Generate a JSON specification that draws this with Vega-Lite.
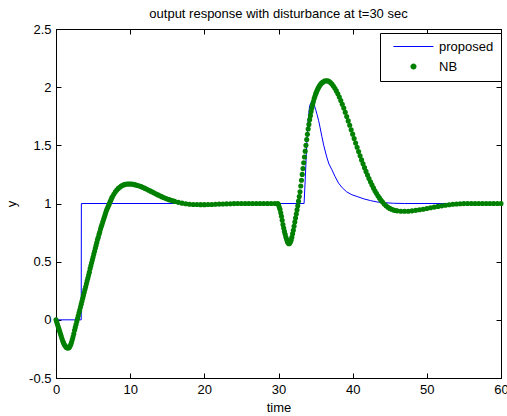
{
"$schema": "https://vega.github.io/schema/vega-lite/v6.json",
"width": 445, "height": 349,
"autosize": {"type": "none"},
"padding": {"left": 56, "top": 29, "right": 6, "bottom": 38},
"background": "white",
"title": {"text": "output response with disturbance at t=30 sec", "fontSize": 13, "fontWeight": "normal", "font": "Liberation Sans", "color": "black", "baseline": "alphabetic", "offset": -7.5, "anchor": "middle"},
"datasets": {
"proposed": [{"t":0,"y":0},{"t":3.4,"y":0},{"t":3.42,"y":1},{"t":33.45,"y":1},{"t":33.6,"y":1.2},{"t":33.8,"y":1.5},{"t":34.0,"y":1.72},{"t":34.2,"y":1.84},{"t":34.4,"y":1.87},{"t":34.6,"y":1.87},{"t":34.8,"y":1.85},{"t":35.0,"y":1.81},{"t":35.2,"y":1.765},{"t":35.4,"y":1.715},{"t":35.6,"y":1.655},{"t":35.85,"y":1.575},{"t":36.1,"y":1.5},{"t":36.5,"y":1.4},{"t":36.8,"y":1.34},{"t":37.2,"y":1.29},{"t":37.6,"y":1.235},{"t":38.1,"y":1.175},{"t":38.6,"y":1.135},{"t":39.2,"y":1.1},{"t":39.9,"y":1.075},{"t":40.6,"y":1.06},{"t":41.5,"y":1.04},{"t":42.4,"y":1.025},{"t":43.3,"y":1.013},{"t":44.2,"y":1.007},{"t":45.5,"y":1.002},{"t":47,"y":1},{"t":60,"y":1}],
"nb": [{"t":0,"y":0},{"t":0.1,"y":-0.02},{"t":0.2,"y":-0.04},{"t":0.3,"y":-0.06},{"t":0.4,"y":-0.08},{"t":0.5,"y":-0.1},{"t":0.6,"y":-0.12},{"t":0.7,"y":-0.14},{"t":0.8,"y":-0.16},{"t":0.9,"y":-0.18},{"t":1,"y":-0.195},{"t":1.1,"y":-0.21},{"t":1.2,"y":-0.22},{"t":1.3,"y":-0.23},{"t":1.4,"y":-0.237},{"t":1.5,"y":-0.24},{"t":1.6,"y":-0.242},{"t":1.7,"y":-0.24},{"t":1.8,"y":-0.235},{"t":1.9,"y":-0.225},{"t":2,"y":-0.21},{"t":2.1,"y":-0.19},{"t":2.2,"y":-0.17},{"t":2.3,"y":-0.145},{"t":2.4,"y":-0.12},{"t":2.5,"y":-0.09},{"t":2.6,"y":-0.065},{"t":2.7,"y":-0.04},{"t":2.8,"y":-0.015},{"t":2.9,"y":0.01},{"t":3,"y":0.035},{"t":3.1,"y":0.06},{"t":3.2,"y":0.085},{"t":3.3,"y":0.11},{"t":3.4,"y":0.135},{"t":3.5,"y":0.16},{"t":3.6,"y":0.185},{"t":3.7,"y":0.21},{"t":3.8,"y":0.235},{"t":3.9,"y":0.26},{"t":4,"y":0.285},{"t":4.1,"y":0.31},{"t":4.2,"y":0.335},{"t":4.3,"y":0.36},{"t":4.4,"y":0.385},{"t":4.5,"y":0.41},{"t":4.6,"y":0.44},{"t":4.7,"y":0.465},{"t":4.8,"y":0.49},{"t":4.9,"y":0.515},{"t":5,"y":0.54},{"t":5.1,"y":0.565},{"t":5.2,"y":0.59},{"t":5.3,"y":0.615},{"t":5.4,"y":0.64},{"t":5.5,"y":0.665},{"t":5.6,"y":0.69},{"t":5.7,"y":0.71},{"t":5.8,"y":0.735},{"t":5.9,"y":0.755},{"t":6,"y":0.78},{"t":6.1,"y":0.8},{"t":6.2,"y":0.82},{"t":6.3,"y":0.84},{"t":6.4,"y":0.86},{"t":6.5,"y":0.88},{"t":6.6,"y":0.9},{"t":6.7,"y":0.92},{"t":6.8,"y":0.94},{"t":6.9,"y":0.955},{"t":7,"y":0.97},{"t":7.1,"y":0.985},{"t":7.2,"y":1},{"t":7.3,"y":1.015},{"t":7.4,"y":1.03},{"t":7.5,"y":1.045},{"t":7.6,"y":1.058},{"t":7.8,"y":1.08},{"t":8,"y":1.1},{"t":8.2,"y":1.115},{"t":8.4,"y":1.13},{"t":8.6,"y":1.14},{"t":8.8,"y":1.15},{"t":9,"y":1.157},{"t":9.2,"y":1.162},{"t":9.4,"y":1.165},{"t":9.6,"y":1.167},{"t":9.8,"y":1.168},{"t":10,"y":1.168},{"t":10.2,"y":1.167},{"t":10.4,"y":1.165},{"t":10.6,"y":1.162},{"t":10.8,"y":1.159},{"t":11,"y":1.155},{"t":11.25,"y":1.15},{"t":11.5,"y":1.145},{"t":11.75,"y":1.138},{"t":12,"y":1.13},{"t":12.25,"y":1.122},{"t":12.5,"y":1.114},{"t":12.75,"y":1.106},{"t":13,"y":1.098},{"t":13.25,"y":1.09},{"t":13.5,"y":1.082},{"t":13.75,"y":1.074},{"t":14,"y":1.066},{"t":14.25,"y":1.059},{"t":14.5,"y":1.052},{"t":14.75,"y":1.045},{"t":15,"y":1.039},{"t":15.25,"y":1.033},{"t":15.5,"y":1.028},{"t":15.75,"y":1.023},{"t":16,"y":1.018},{"t":16.5,"y":1.01},{"t":17,"y":1.003},{"t":17.5,"y":0.998},{"t":18,"y":0.994},{"t":18.5,"y":0.992},{"t":19,"y":0.991},{"t":19.5,"y":0.99},{"t":20,"y":0.99},{"t":20.5,"y":0.991},{"t":21,"y":0.992},{"t":21.5,"y":0.993},{"t":22,"y":0.995},{"t":22.5,"y":0.996},{"t":23,"y":0.997},{"t":23.5,"y":0.998},{"t":24,"y":0.999},{"t":24.5,"y":1},{"t":25,"y":1},{"t":25.5,"y":1},{"t":26,"y":1},{"t":26.5,"y":1},{"t":27,"y":1},{"t":27.5,"y":1},{"t":28,"y":1},{"t":28.5,"y":1},{"t":29,"y":1},{"t":29.5,"y":1},{"t":29.9,"y":1},{"t":30,"y":0.99},{"t":30.1,"y":0.97},{"t":30.2,"y":0.95},{"t":30.3,"y":0.92},{"t":30.4,"y":0.89},{"t":30.5,"y":0.855},{"t":30.6,"y":0.82},{"t":30.7,"y":0.79},{"t":30.8,"y":0.76},{"t":30.9,"y":0.735},{"t":31,"y":0.71},{"t":31.1,"y":0.69},{"t":31.2,"y":0.672},{"t":31.3,"y":0.66},{"t":31.4,"y":0.655},{"t":31.5,"y":0.658},{"t":31.6,"y":0.668},{"t":31.7,"y":0.685},{"t":31.8,"y":0.71},{"t":31.9,"y":0.74},{"t":32,"y":0.77},{"t":32.1,"y":0.805},{"t":32.2,"y":0.84},{"t":32.3,"y":0.875},{"t":32.4,"y":0.91},{"t":32.5,"y":0.945},{"t":32.6,"y":0.98},{"t":32.7,"y":1.02},{"t":32.8,"y":1.06},{"t":32.9,"y":1.1},{"t":33,"y":1.15},{"t":33.1,"y":1.2},{"t":33.2,"y":1.25},{"t":33.3,"y":1.3},{"t":33.4,"y":1.35},{"t":33.5,"y":1.4},{"t":33.6,"y":1.45},{"t":33.7,"y":1.5},{"t":33.8,"y":1.55},{"t":33.9,"y":1.595},{"t":34,"y":1.64},{"t":34.1,"y":1.68},{"t":34.2,"y":1.72},{"t":34.3,"y":1.755},{"t":34.4,"y":1.79},{"t":34.5,"y":1.82},{"t":34.6,"y":1.85},{"t":34.7,"y":1.875},{"t":34.8,"y":1.9},{"t":34.9,"y":1.92},{"t":35,"y":1.94},{"t":35.1,"y":1.955},{"t":35.2,"y":1.97},{"t":35.3,"y":1.985},{"t":35.4,"y":1.997},{"t":35.5,"y":2.008},{"t":35.6,"y":2.018},{"t":35.7,"y":2.027},{"t":35.8,"y":2.034},{"t":35.9,"y":2.04},{"t":36,"y":2.045},{"t":36.2,"y":2.052},{"t":36.4,"y":2.055},{"t":36.6,"y":2.054},{"t":36.8,"y":2.05},{"t":37,"y":2.04},{"t":37.2,"y":2.027},{"t":37.4,"y":2.01},{"t":37.6,"y":1.99},{"t":37.8,"y":1.968},{"t":38,"y":1.943},{"t":38.2,"y":1.915},{"t":38.4,"y":1.885},{"t":38.6,"y":1.853},{"t":38.8,"y":1.82},{"t":39,"y":1.785},{"t":39.2,"y":1.748},{"t":39.4,"y":1.71},{"t":39.6,"y":1.672},{"t":39.8,"y":1.634},{"t":40,"y":1.596},{"t":40.2,"y":1.558},{"t":40.4,"y":1.52},{"t":40.6,"y":1.483},{"t":40.8,"y":1.446},{"t":41,"y":1.41},{"t":41.2,"y":1.375},{"t":41.4,"y":1.341},{"t":41.6,"y":1.308},{"t":41.8,"y":1.276},{"t":42,"y":1.245},{"t":42.2,"y":1.215},{"t":42.4,"y":1.187},{"t":42.6,"y":1.16},{"t":42.8,"y":1.134},{"t":43,"y":1.11},{"t":43.2,"y":1.088},{"t":43.4,"y":1.067},{"t":43.6,"y":1.048},{"t":43.8,"y":1.03},{"t":44,"y":1.014},{"t":44.25,"y":0.996},{"t":44.5,"y":0.981},{"t":44.75,"y":0.968},{"t":45,"y":0.958},{"t":45.25,"y":0.95},{"t":45.5,"y":0.944},{"t":45.75,"y":0.94},{"t":46,"y":0.937},{"t":46.5,"y":0.934},{"t":47,"y":0.933},{"t":47.5,"y":0.934},{"t":48,"y":0.937},{"t":48.5,"y":0.941},{"t":49,"y":0.946},{"t":49.5,"y":0.951},{"t":50,"y":0.957},{"t":50.5,"y":0.963},{"t":51,"y":0.969},{"t":51.5,"y":0.975},{"t":52,"y":0.98},{"t":52.5,"y":0.985},{"t":53,"y":0.989},{"t":53.5,"y":0.993},{"t":54,"y":0.996},{"t":54.5,"y":0.998},{"t":55,"y":0.999},{"t":55.5,"y":1},{"t":56,"y":1},{"t":56.5,"y":1},{"t":57,"y":1},{"t":57.5,"y":1},{"t":58,"y":1},{"t":58.5,"y":1},{"t":59,"y":1},{"t":59.5,"y":1},{"t":60,"y":1}]
},
"layer": [
{
"data": {"name": "proposed"},
"mark": {"type": "line", "strokeWidth": 1},
"encoding": {
"x": {"field": "t", "type": "quantitative", "scale": {"domain": [0, 60], "nice": false},
 "axis": {"orient": "bottom", "values": [0,10,20,30,40,50,60], "title": "time", "titlePadding": 5, "labelExpr": "datum.value"}},
"y": {"field": "y", "type": "quantitative", "scale": {"domain": [-0.5, 2.5], "nice": false, "zero": false},
 "axis": {"orient": "left", "values": [-0.5,0,0.5,1,1.5,2,2.5], "title": "y", "titlePadding": 10, "labelExpr": "datum.value"}},
"color": {"datum": "proposed", "type": "nominal", "scale": {"domain": ["proposed", "NB"], "range": ["#0000ff", "#008000"]},
 "legend": {"title": null, "orient": "none", "legendX": 324, "legendY": 4, "fillColor": "white", "strokeColor": "black", "padding": 7, "rowPadding": 6, "labelFont": "Liberation Sans", "labelFontSize": 13, "labelColor": "black", "labelOffset": 39, "symbolSize": 30,
  "encode": {"symbols": {"update": {"shape": {"signal": "datum.value === 'proposed' ? 'M0,0H14.6' : 'M6.2,0A1.1,1.1,0,1,1,8.4,0A1.1,1.1,0,1,1,6.2,0Z'"}, "stroke": {"signal": "datum.value === 'proposed' ? '#0000ff' : '#008000'"}, "fill": {"signal": "datum.value === 'proposed' ? 'transparent' : '#008000'"}, "strokeWidth": {"signal": "datum.value === 'proposed' ? 1 : 0"}, "opacity": {"value": 1}}}}}}
}
},
{
"data": {"name": "nb"},
"mark": {"type": "point", "filled": true, "size": 26, "opacity": 1, "strokeWidth": 0},
"encoding": {
"x": {"field": "t", "type": "quantitative", "axis": {"orient": "top", "values": [0,10,20,30,40,50,60], "labels": false, "title": null, "labelPadding": 0}},
"y": {"field": "y", "type": "quantitative", "axis": {"orient": "right", "values": [-0.5,0,0.5,1,1.5,2,2.5], "labels": false, "title": null, "labelPadding": 0}},
"color": {"datum": "NB", "type": "nominal",
 "legend": {"title": null, "orient": "none", "legendX": 324, "legendY": 4, "fillColor": "white", "strokeColor": "black", "padding": 7, "rowPadding": 6, "labelFont": "Liberation Sans", "labelFontSize": 13, "labelColor": "black", "labelOffset": 39, "symbolSize": 30,
  "encode": {"symbols": {"update": {"shape": {"signal": "datum.value === 'proposed' ? 'M0,0H14.6' : 'M6.2,0A1.1,1.1,0,1,1,8.4,0A1.1,1.1,0,1,1,6.2,0Z'"}, "stroke": {"signal": "datum.value === 'proposed' ? '#0000ff' : '#008000'"}, "fill": {"signal": "datum.value === 'proposed' ? 'transparent' : '#008000'"}, "strokeWidth": {"signal": "datum.value === 'proposed' ? 1 : 0"}, "opacity": {"value": 1}}}}}}
}
}
],
"resolve": {"axis": {"x": "independent", "y": "independent"}},
"config": {
"view": {"stroke": "black", "strokeWidth": 1},
"axis": {"grid": false, "tickSize": -5, "labelPadding": 10, "tickColor": "black", "domainColor": "black", "labelFont": "Liberation Sans", "labelFontSize": 13, "labelColor": "black", "titleFont": "Liberation Sans", "titleFontSize": 13, "titleFontWeight": "normal", "titleColor": "black", "labelFlush": false, "labelOverlap": false}
}
}
